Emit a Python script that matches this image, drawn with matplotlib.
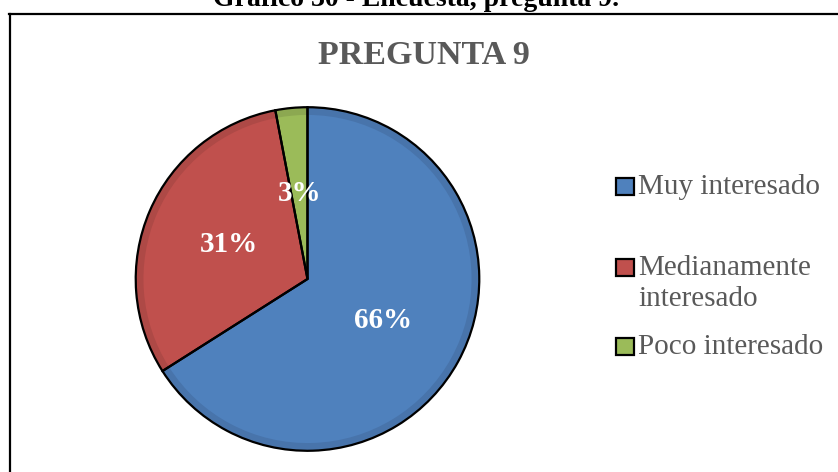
import matplotlib.pyplot as plt
from matplotlib.lines import Line2D
from matplotlib.patches import Rectangle

# datos
categorias = ['Muy interesado', 'Medianamente\ninteresado', 'Poco interesado']
valores = [66, 31, 3]
colores = ['#4F81BD', '#C0504D', '#9BBB59']
bordes = ['#4874AB', '#AE4946', '#8CA851']

W, H = 838, 472
fig = plt.figure(figsize=(W / 100, H / 100), dpi=100)
serif = ['Liberation Serif', 'DejaVu Serif']

# caja del grafico
fig.add_artist(Line2D([9 / W, 1], [1 - 13.5 / H] * 2, color='black', lw=1.6, transform=fig.transFigure))
fig.add_artist(Line2D([9.5 / W] * 2, [0, 1 - 13.5 / H], color='black', lw=1.6, transform=fig.transFigure))

# titulo del documento (cortado arriba)
fig.text(416 / W, 1 - 6 / H, 'Gráfico 30 - Encuesta, pregunta 9.', ha='center', va='baseline',
         fontsize=20, fontweight='bold', family=serif, color='black')

# titulo del grafico
fig.text(424 / W, 1 - 55 / H, 'PREGUNTA 9', ha='center', va='center',
         fontsize=24.5, fontweight='bold', family=serif, color='#595959')

# pastel
cx, cy, r = 307.5, 279, 173.5
ax = fig.add_axes([(cx - r) / W, 1 - (cy + r) / H, 2 * r / W, 2 * r / H])
# banda exterior mas oscura
ax.pie(valores, colors=bordes, startangle=90, counterclock=False, radius=1,
       wedgeprops=dict(linewidth=0))
# relleno interior
wedges, texts, autotexts = ax.pie(valores, colors=colores, startangle=90, counterclock=False,
                                  autopct='%.0f%%', pctdistance=0.5 / 0.955, radius=0.955,
                                  wedgeprops=dict(linewidth=0),
                                  textprops=dict(color='white', fontsize=21, fontweight='bold', family=serif))
# contorno negro
ax.pie(valores, startangle=90, counterclock=False, radius=1,
       wedgeprops=dict(fill=False, edgecolor='black', linewidth=1.6))
for t in autotexts:
    t.set_zorder(5)
ax.set_xlim(-1.01, 1.01)
ax.set_ylim(-1.01, 1.01)
ax.axis('off')

# leyenda
lineas_base = [194, 275, 354]
paso = 31
for cat, col, y in zip(categorias, colores, lineas_base):
    fig.add_artist(Rectangle((616 / W, 1 - (y + 0.5) / H), 18 / W, 16.5 / H, facecolor=col,
                             edgecolor='black', lw=1.6, transform=fig.transFigure))
    for i, linea in enumerate(cat.split('\n')):
        fig.text(638 / W, 1 - (y + i * paso) / H, linea, ha='left', va='baseline', fontsize=21,
                 family=serif, color='#595959')

fig.savefig('out.png', dpi=100)
